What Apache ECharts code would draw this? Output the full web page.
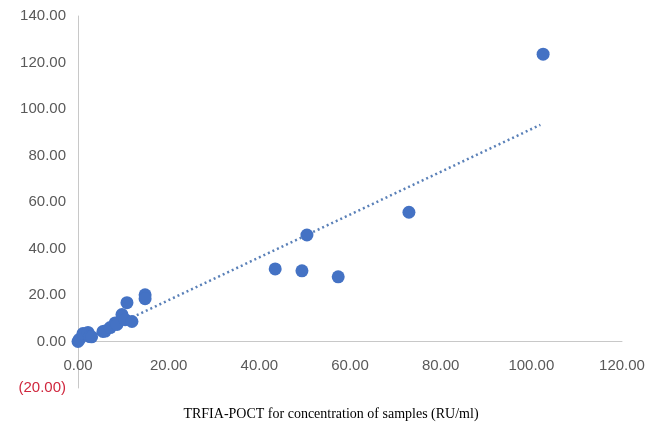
<!DOCTYPE html>
<html>
<head>
<meta charset="utf-8">
<script src="https://cdn.jsdelivr.net/npm/echarts@6/dist/echarts.min.js"></script>
<style>
  html, body { margin: 0; padding: 0; background: #fff; }
  #chart { width: 662px; height: 427px; }
</style>
</head>
<body>
<div id="chart"></div>
<script>
// Observed samples (TRFIA-POCT x, reference y)
const sampleX = [0.0, 0.3, 1.1, 2.2, 2.6, 3.0, 5.5, 6.0, 7.1, 8.2, 8.6, 9.7, 10.4, 10.8, 11.9, 14.8, 14.8, 43.5, 49.4, 50.5, 57.4, 73.0, 102.6];
const sampleY = [0.0, 0.9, 3.4, 3.9, 2.1, 2.0, 4.3, 4.5, 6.0, 8.0, 7.3, 11.6, 9.4, 16.7, 8.6, 20.1, 18.4, 31.2, 30.4, 45.8, 27.8, 55.6, 123.6];

// Linear trendline end points
const trendX = [0, 102];
const trendY = [-0.6, 93.2];

// Axis settings
const xMin = 0, xMax = 120, xStep = 20;
const yMin = -20, yMax = 140, yStep = 20;
const xTitle = 'TRFIA-POCT for concentration of samples (RU/ml)';

const samples = sampleX.map((x, i) => [x, sampleY[i]]);
const trend = trendX.map((x, i) => [x, trendY[i]]);

const gridTop = 16, gridBottom = 39;
const plotH = 427 - gridTop - gridBottom;
// shift the x axis up to the y = 0 line
const xAxisOffset = -plotH * (0 - yMin) / (yMax - yMin);

const chart = echarts.init(document.getElementById('chart'));
const labelFont = 'Liberation Sans';
chart.setOption({
  animation: false,
  backgroundColor: '#ffffff',
  title: {
    text: xTitle,
    left: 'center',
    bottom: 1,
    textStyle: { fontFamily: 'Liberation Serif', fontSize: 14, fontWeight: 'normal', color: '#000000' }
  },
  grid: { left: 78, right: 40, top: gridTop, bottom: gridBottom },
  xAxis: {
    type: 'value',
    min: xMin, max: xMax, interval: xStep,
    offset: xAxisOffset,
    axisLine: { show: true, onZero: false, lineStyle: { color: '#c8c8c8', width: 1 } },
    axisTick: { show: false },
    splitLine: { show: false },
    axisLabel: {
      margin: 17,
      color: '#595959',
      fontFamily: labelFont,
      fontSize: 15,
      formatter: v => v.toFixed(2)
    }
  },
  yAxis: {
    type: 'value',
    min: yMin, max: yMax, interval: yStep,
    axisLine: { show: true, onZero: false, lineStyle: { color: '#c8c8c8', width: 1 } },
    axisTick: { show: false },
    splitLine: { show: false },
    axisLabel: {
      margin: 12,
      color: '#595959',
      fontFamily: labelFont,
      fontSize: 15,
      formatter: v => v < 0 ? '{neg|(' + Math.abs(v).toFixed(2) + ')}' : v.toFixed(2),
      rich: { neg: { color: '#d0273e', fontFamily: labelFont, fontSize: 15 } }
    }
  },
  series: [
    {
      type: 'line',
      data: trend,
      showSymbol: false,
      symbol: 'none',
      z: 1,
      lineStyle: { type: [2, 3], width: 2.5, color: '#5a80b8' },
      silent: true
    },
    {
      type: 'scatter',
      data: samples,
      symbolSize: 13,
      z: 3,
      itemStyle: { color: '#4472c4', opacity: 1 }
    }
  ]
});
</script>
</body>
</html>
